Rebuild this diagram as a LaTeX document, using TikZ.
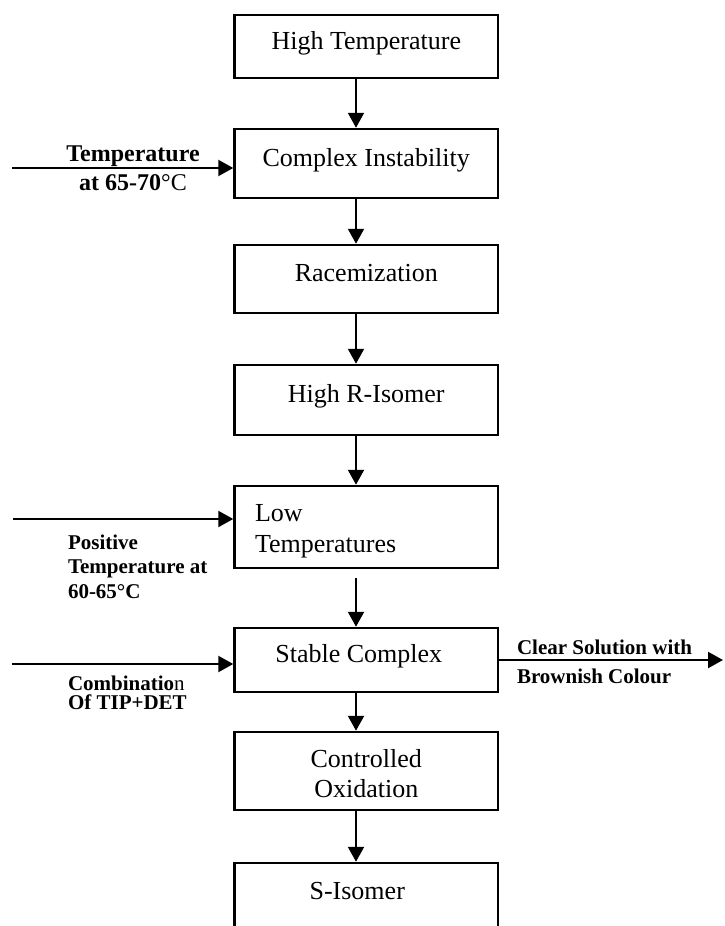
\documentclass[tikz,border=0pt]{standalone}
\usepackage{fontspec}
\setmainfont{Liberation Serif}
\usetikzlibrary{arrows.meta}
\tikzset{
  boxnode/.style={draw, line width=2.5pt, minimum width=263.5pt, inner sep=0pt, font=\fontsize{26}{31}\selectfont},
  onebox/.style={boxnode, text height=12pt, text depth=7pt},
  arr/.style={line width=2.2pt, -{Triangle[length=15pt,width=16pt]}},
  lbl/.style={inner sep=0pt, outer sep=0pt, anchor=north west, align=left},
}
\begin{document}
\begin{tikzpicture}[x=1pt,y=-1pt]
\useasboundingbox (0,0) rectangle (725,926);
\coordinate (ax) at (356,0);
\coordinate (pb) at (0,926);
% boxes
\node[onebox, minimum height=63pt] (b1) at (366.25,46.5) {High Temperature};
\node[onebox, minimum height=69pt] (b2) at (366.25,163.5) {Complex Instability};
\node[onebox, minimum height=68pt] (b3) at (366.25,279) {Racemization};
\node[onebox, minimum height=70pt] (b4) at (366.25,400) {High R-Isomer};
\node[boxnode, minimum height=82pt, align=left, text width=222.5pt, inner xsep=20.5pt] (b5) at (366.25,527)
  {\rule{0pt}{28.4pt}Low\\Temperatures\rule[-8pt]{0pt}{8pt}};
\node[onebox, minimum height=64pt] (b6) at (366.25,660) {\kern-15pt Stable Complex};
\node[boxnode, minimum height=78pt, align=center, font=\fontsize{26}{30.4}\selectfont] (b7) at (366.25,771)
  {\rule{0pt}{29pt}Controlled\\Oxidation\rule[-6pt]{0pt}{6pt}};
\node[onebox, draw=none, outer sep=0pt, anchor=north, minimum height=67.6pt] (b8) at (366.25,863) {\kern-18pt S-Isomer};
\draw[line width=2.5pt] (b8.west |- pb) -- (b8.north west) -- (b8.north east) -- (b8.east |- pb);
% vertical arrows
\draw[arr] (b1.south -| ax) -- (b2.north -| ax);
\draw[arr] (b2.south -| ax) -- (b3.north -| ax);
\draw[arr] (b3.south -| ax) -- (b4.north -| ax);
\draw[arr] (b4.south -| ax) -- (b5.north -| ax);
\draw[arr, shorten <=9pt] (b5.south -| ax) -- (b6.north -| ax);
\draw[arr] (b6.south -| ax) -- (b7.north -| ax);
\draw[arr, shorten >=1.25pt] (b7.south -| ax) -- (b8.north -| ax);
% side arrows
\coordinate (s1) at (12,168);
\coordinate (s2) at (13,519);
\coordinate (s3) at (11.5,664);
\coordinate (e1) at (723,660);
\draw[arr] (s1) -- (s1 -| b2.west);
\draw[arr] (s2) -- (s2 -| b5.west);
\draw[arr] (s3) -- (s3 -| b6.west);
\draw[arr] (b6.east) -- (e1);
% labels
\node[inner sep=0pt, outer sep=0pt, anchor=north, align=center, font=\bfseries\fontsize{24}{29}\selectfont] (l1) at (133,141.7)
  {\rule{0pt}{20pt}Temperature\\at 65-70{\mdseries °C}};
\node[lbl, font=\bfseries\fontsize{21}{24.5}\selectfont] (l2) at (68,529.3)
  {\rule{0pt}{20pt}Positive\\Temperature at\\60-65°C};
\node[lbl, font=\bfseries\fontsize{21}{19.5}\selectfont] (l3) at (68,670)
  {\rule{0pt}{20pt}Combinatio{\mdseries n}\\Of TIP+DET};
\node[lbl, font=\bfseries\fontsize{21}{29.3}\selectfont] (l4) at (517,634)
  {\rule{0pt}{20pt}Clear Solution with\\Brownish Colour};
\end{tikzpicture}
\end{document}
